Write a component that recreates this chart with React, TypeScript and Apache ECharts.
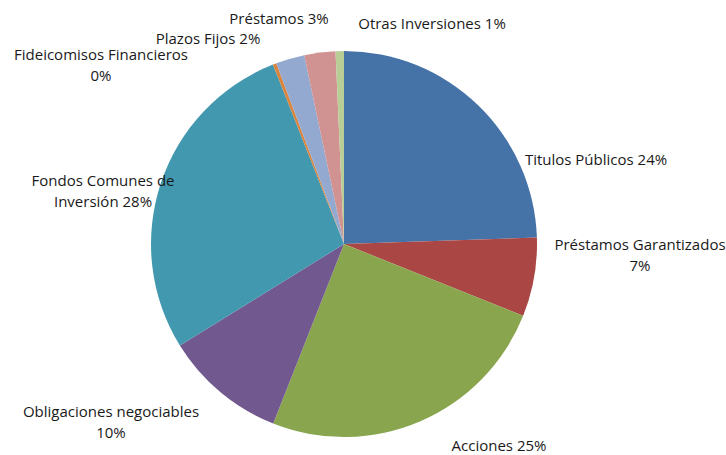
import React, { useEffect, useRef } from "react";
import * as echarts from "echarts";

const CATEGORIES = [
  "Titulos Públicos",
  "Préstamos Garantizados",
  "Acciones",
  "Obligaciones negociables",
  "Fondos Comunes de Inversión",
  "Fideicomisos Financieros",
  "Plazos Fijos",
  "Préstamos",
  "Otras Inversiones",
];
const VALUES = [24.45, 6.6, 24.9, 10.2, 27.8, 0.3, 2.4, 2.6, 0.7];
const LABEL_TEMPLATES = [
  "Titulos Públicos {p}",
  "Préstamos Garantizados\n{p}",
  "Acciones {p}",
  "Obligaciones negociables\n{p}",
  "Fondos Comunes de\nInversión {p}",
  "{a|Fideicomisos Financieros}\n{b|{p}}",
  "Plazos Fijos {p}",
  "Préstamos {p}",
  "Otras Inversiones {p}",
];
const COLORS = ["#4572A7", "#AA4643", "#89A54E", "#71588F", "#4198AF", "#DB843D", "#93A9CF", "#D19392", "#B9CD96"];
// label centre positions (layout only)
const LABEL_POS: [number, number][] = [
  [596, 159],
  [640, 254],
  [499, 445],
  [111, 421],
  [103, 190],
  [101, 67],
  [208, 38],
  [279, 18],
  [432, 23],
];

export default function App() {
  const ref = useRef<HTMLDivElement>(null);
  useEffect(() => {
    if (!ref.current) return;
    const chart = echarts.init(ref.current, undefined, { renderer: "svg" });
    chart.setOption({
      animation: false,
      backgroundColor: "#ffffff",
      color: COLORS,
      series: [
        {
          type: "pie",
          center: [344, 244],
          radius: 193,
          startAngle: 90,
          clockwise: true,
          avoidLabelOverlap: false,
          itemStyle: { borderWidth: 0 },
          label: {
            show: true,
            position: "outside",
            fontFamily: "Open Sans",
            fontSize: 15,
            lineHeight: 21,
            color: "#1a1a1a",
            rich: {
              a: { fontFamily: "Open Sans", fontSize: 15, lineHeight: 16, color: "#1a1a1a" },
              b: { fontFamily: "Open Sans", fontSize: 15, lineHeight: 26, color: "#1a1a1a" },
            },
            formatter: (p: any) =>
              LABEL_TEMPLATES[p.dataIndex].replace("{p}", Math.round(p.percent) + "%"),
          },
          labelLine: { show: false },
          labelLayout: (params: any) => ({
            x: LABEL_POS[params.dataIndex][0],
            y: LABEL_POS[params.dataIndex][1],
            align: "center",
            verticalAlign: "middle",
          }),
          emphasis: { disabled: true },
          data: CATEGORIES.map((name, i) =>
            i === 6
              ? { name, value: VALUES[i], label: { lineHeight: 16 } }
              : { name, value: VALUES[i] }
          ),
        },
      ],
    });
    return () => chart.dispose();
  }, []);
  return (
    <div
      ref={ref}
      style={{ position: "absolute", left: 0, top: 0, width: 726, height: 455 }}
    />
  );
}
